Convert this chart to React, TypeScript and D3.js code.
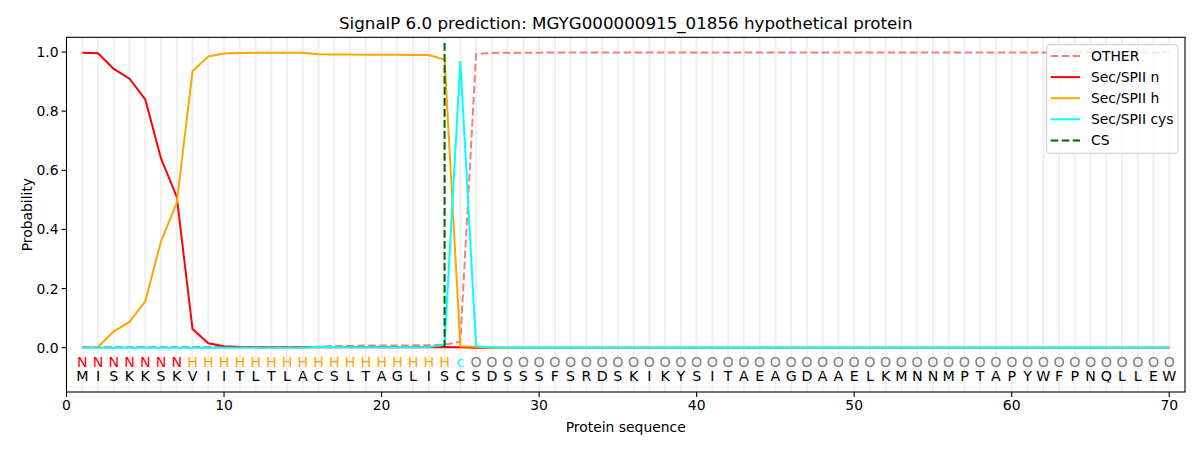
import React from "react";
import * as d3 from "d3";

const sequence = "MISKKSKVIITLTLACSLTAGLISCSDSSSFSRDSKIKYSITAEAGDAAELKMNNMPTAPYWFPNQLLEW".split("");
const labels = "NNNNNNNHHHHHHHHHHHHHHHHHcOOOOOOOOOOOOOOOOOOOOOOOOOOOOOOOOOOOOOOOOOOOOO".split("");

const secN = [0.998, 0.996, 0.943, 0.91, 0.84, 0.64, 0.51, 0.063, 0.015, 0.005, 0.002, 0.001, 0.001, 0.001, 0.001, 0.001, 0.001, 0.001, 0.001, 0.001, 0.001, 0.001, 0.001, 0.002, 0.001,
  0, 0, 0, 0, 0, 0, 0, 0, 0, 0, 0, 0, 0, 0, 0, 0, 0, 0, 0, 0, 0, 0, 0, 0, 0, 0, 0, 0, 0, 0, 0, 0, 0, 0, 0, 0, 0, 0, 0, 0, 0, 0, 0, 0, 0];
const secH = [0, 0.002, 0.055, 0.087, 0.157, 0.36, 0.49, 0.935, 0.985, 0.995, 0.997, 0.998, 0.998, 0.998, 0.998, 0.993, 0.992, 0.992, 0.991, 0.991, 0.991, 0.99, 0.99, 0.975, 0.005, 0.003,
  0, 0, 0, 0, 0, 0, 0, 0, 0, 0, 0, 0, 0, 0, 0, 0, 0, 0, 0, 0, 0, 0, 0, 0, 0, 0, 0, 0, 0, 0, 0, 0, 0, 0, 0, 0, 0, 0, 0, 0, 0, 0, 0, 0];
const secCys = [0, 0, 0, 0, 0, 0, 0, 0, 0, 0, 0, 0, 0, 0, 0, 0.003, 0.002, 0.001, 0.001, 0.001, 0.001, 0.001, 0.002, 0.01, 0.97, 0.005,
  0.001, 0, 0, 0, 0, 0, 0, 0, 0, 0, 0, 0, 0, 0, 0, 0, 0, 0, 0, 0, 0, 0, 0, 0, 0, 0, 0, 0, 0, 0, 0, 0, 0, 0, 0, 0, 0, 0, 0, 0, 0, 0, 0, 0];
const other = [0.002, 0.002, 0.002, 0.002, 0.002, 0.002, 0.002, 0.002, 0.002, 0.002, 0.002, 0.002, 0.002, 0.002, 0.002, 0.003, 0.006, 0.006, 0.007, 0.007, 0.007, 0.008, 0.008, 0.01, 0.02, 0.993,
  0.997, 0.998, 0.998, 0.998, 0.999, 0.999, 0.999, 0.999, 0.999, 0.999, 0.999, 0.999, 0.999, 0.999, 0.999, 0.999, 0.999, 0.999, 0.999, 0.999, 0.999, 0.999, 0.999, 0.999, 0.999, 0.999, 0.999, 0.999, 0.999, 0.999, 0.999, 0.999, 0.999, 0.999, 0.999, 0.999, 0.999, 0.999, 0.999, 0.999, 0.999, 0.999, 0.999, 0.999];
const csPos = 24;
const xTicks = [0, 10, 20, 30, 40, 50, 60, 70];
const yTicks = [0, 0.2, 0.4, 0.6, 0.8, 1.0];

const labelColor: Record<string, string> = { N: "red", H: "orange", c: "cyan", O: "grey" };

const W = 1200, H = 450;
const left = 66.5, right = 1185, top = 37.3, bottom = 392;
const font = "DejaVu Sans, sans-serif";
const DASH = "7.7,3.3";

export default function App() {
  const x = d3.scaleLinear().domain([0, 71]).range([left, right]);
  const y = d3.scaleLinear().domain([-0.15, 1.05]).range([bottom, top]);
  const idx = sequence.map((_, i) => i + 1);
  const line = (vals: number[]) =>
    d3.line<number>().x((_, i) => x(i + 1)).y((v) => y(v))(vals) || "";

  const series = [
    { name: "OTHER", vals: other, color: "#f08080", dash: DASH },
    { name: "Sec/SPII n", vals: secN, color: "red", dash: "" },
    { name: "Sec/SPII h", vals: secH, color: "orange", dash: "" },
    { name: "Sec/SPII cys", vals: secCys, color: "cyan", dash: "" },
  ];
  const legend = [
    ...series,
    { name: "CS", vals: [], color: "darkgreen", dash: DASH },
  ];

  return (
    <svg width={W} height={H} style={{ display: "block", position: "absolute", left: 0, top: 0 }} fontFamily={font}>
      <rect x={0} y={0} width={W} height={H} fill="white" />
      <defs>
        <clipPath id="clip">
          <rect x={left} y={top} width={right - left} height={bottom - top} />
        </clipPath>
      </defs>
      {idx.map((i) => (
        <line key={"g" + i} x1={x(i)} x2={x(i)} y1={top} y2={bottom} stroke="#efefef" strokeWidth={2} />
      ))}
      <g clipPath="url(#clip)">
        {series.map((s) => (
          <path key={s.name} d={line(s.vals)} fill="none" stroke={s.color} strokeWidth={2} strokeDasharray={s.dash || undefined} />
        ))}
        <line x1={x(csPos)} x2={x(csPos)} y1={y(0)} y2={y(1.04)} stroke="darkgreen" strokeWidth={2} strokeDasharray={DASH} />
      </g>
      {labels.map((l, i) => (
        <text key={"l" + i} x={x(i + 1)} y={y(-0.047)} fill={labelColor[l]} fontSize={14.2} textAnchor="middle" dominantBaseline="central">{l}</text>
      ))}
      {sequence.map((a, i) => (
        <text key={"a" + i} x={x(i + 1)} y={y(-0.095)} fill="black" fontSize={14.2} textAnchor="middle" dominantBaseline="central">{a}</text>
      ))}
      <rect x={left} y={top} width={right - left} height={bottom - top} fill="none" stroke="black" strokeWidth={1.1} />
      {xTicks.map((t) => (
        <g key={"x" + t}>
          <line x1={x(t)} x2={x(t)} y1={bottom} y2={bottom + 4.9} stroke="black" strokeWidth={1.1} />
          <text x={x(t)} y={bottom + 18} fontSize={13.9} textAnchor="middle" fill="black">{t}</text>
        </g>
      ))}
      {yTicks.map((t) => (
        <g key={"y" + t}>
          <line x1={left - 4.9} x2={left} y1={y(t)} y2={y(t)} stroke="black" strokeWidth={1.1} />
          <text x={left - 8} y={y(t)} fontSize={13.9} textAnchor="end" dominantBaseline="central" fill="black">{t.toFixed(1)}</text>
        </g>
      ))}
      <text x={(left + right) / 2} y={432} fontSize={13.9} textAnchor="middle" fill="black">Protein sequence</text>
      <text transform={`translate(${27},${(top + bottom) / 2}) rotate(-90)`} fontSize={13.9} textAnchor="middle" dominantBaseline="central" fill="black">Probability</text>
      <text x={(left + right) / 2} y={29} fontSize={16.7} textAnchor="middle" fill="black">SignalP 6.0 prediction: MGYG000000915_01856 hypothetical protein</text>
      <g>
        <rect x={1046.7} y={44.7} width={131.3} height={108.6} rx={3} fill="white" fillOpacity={0.8} stroke="#cccccc" strokeWidth={1} />
        {legend.map((s, i) => {
          const ly = 56 + i * 21.1;
          return (
            <g key={"lg" + s.name}>
              <line x1={1050.7} x2={1080} y1={ly} y2={ly} stroke={s.color} strokeWidth={2} strokeDasharray={s.dash || undefined} />
              <text x={1091} y={ly} fontSize={13.9} dominantBaseline="central" fill="black">{s.name}</text>
            </g>
          );
        })}
      </g>
    </svg>
  );
}
